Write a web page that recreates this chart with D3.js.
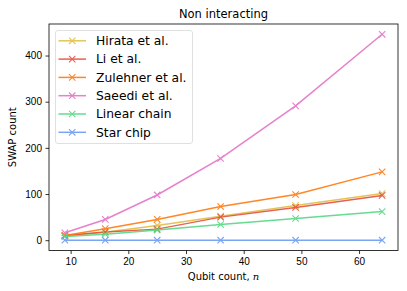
<!DOCTYPE html>
<html lang="en">
<head>
  <meta charset="utf-8">
  <title>Non interacting</title>
  <script src="https://d3js.org/d3.v7.min.js"></script>
  <style>
    body { margin: 0; background: #fff; }
    svg { font-family: "DejaVu Sans", sans-serif; }
  </style>
</head>
<body>
<script>
// qubit counts (x) and swap counts per method
var qubits = [9, 16, 25, 36, 49, 64];
var seriesNames = ["Hirata et al.", "Li et al.", "Zulehner et al.", "Saeedi et al.", "Linear chain", "Star chip"];
var hirata   = [9, 17, 32, 52, 75, 101];
var li       = [10, 18, 24, 50, 71, 97];
var zulehner = [10, 25, 45, 73, 99, 148];
var saeedi   = [16, 45, 98, 177, 291, 446];
var linear   = [8, 13, 22, 34, 47, 62];
var star     = [0, 0, 0, 0, 0, 0];
var xTicks = [10, 20, 30, 40, 50, 60];
var yTicks = [0, 100, 200, 300, 400];

var colours = ["#e0bf45", "#e4503f", "#ff7b0f", "#e474c6", "#55d985", "#6c9cf2"];
var allSeries = [hirata, li, zulehner, saeedi, linear, star];

var w = 407, h = 291;
// note: "top" is taken by window.top, so use plot* names
var plotLeft = 49, plotRight = 398, plotTop = 24, plotBottom = 250.5;

var xScale = d3.scaleLinear().domain([6.25, 66.75]).range([plotLeft, plotRight]);
var yScale = d3.scaleLinear().domain([-22.3, 468.3]).range([plotBottom, plotTop]);

var svg = d3.select("body").append("svg")
  .attr("width", w)
  .attr("height", h);

//axes
svg.append("g")
  .attr("transform", "translate(0," + plotBottom + ")")
  .call(d3.axisBottom(xScale).tickValues(xTicks).tickSize(3.5).tickPadding(3.5))
  .call(function (g) { g.select(".domain").remove(); })
  .selectAll("text").attr("font-size", "10px").attr("fill", "#000");

svg.append("g")
  .attr("transform", "translate(" + plotLeft + ",0)")
  .call(d3.axisLeft(yScale).tickValues(yTicks).tickSize(3.5).tickPadding(3.5))
  .call(function (g) { g.select(".domain").remove(); })
  .selectAll("text").attr("font-size", "10px").attr("fill", "#000");

svg.selectAll(".tick line").attr("stroke", "#000").attr("stroke-width", 0.8);

var line = d3.line()
  .x(function (d, i) { return xScale(qubits[i]); })
  .y(function (d) { return yScale(d); });

function drawMarker(g, cx, cy, colour) {
  var s = 3.2;
  g.append("path")
    .attr("d", "M" + (cx - s) + "," + (cy - s) + "L" + (cx + s) + "," + (cy + s) +
               "M" + (cx - s) + "," + (cy + s) + "L" + (cx + s) + "," + (cy - s))
    .attr("stroke", colour)
    .attr("stroke-width", 1.1)
    .attr("fill", "none");
}

allSeries.forEach(function (values, k) {
  var g = svg.append("g").attr("opacity", 0.9);
  g.append("path")
    .datum(values)
    .attr("d", line)
    .attr("fill", "none")
    .attr("stroke", colours[k])
    .attr("stroke-width", 1.5);
  values.forEach(function (v, i) {
    drawMarker(g, xScale(qubits[i]), yScale(v), colours[k]);
  });
});

//frame
svg.append("rect")
  .attr("x", plotLeft).attr("y", plotTop)
  .attr("width", plotRight - plotLeft).attr("height", plotBottom - plotTop)
  .attr("fill", "none").attr("stroke", "#000").attr("stroke-width", 0.8);

//legend
var legend = svg.append("g");
legend.append("rect")
  .attr("x", 55.5).attr("y", 30.5)
  .attr("width", 137).attr("height", 113)
  .attr("rx", 2.5)
  .attr("fill", "#fff").attr("fill-opacity", 0.8)
  .attr("stroke", "#d8d8d8").attr("stroke-width", 0.8);

seriesNames.forEach(function (name, k) {
  var y = 40.8 + k * 18.3;
  var g = legend.append("g").attr("opacity", 0.9);
  g.append("line")
    .attr("x1", 58.5).attr("x2", 86)
    .attr("y1", y).attr("y2", y)
    .attr("stroke", colours[k]).attr("stroke-width", 1.5);
  drawMarker(g, 72.2, y, colours[k]);
  legend.append("text")
    .attr("x", 96).attr("y", y + 4.3)
    .attr("font-size", "12.3px")
    .attr("fill", "#000")
    .text(name);
});

//labels
svg.append("text")
  .attr("x", (plotLeft + plotRight) / 2).attr("y", 18)
  .attr("text-anchor", "middle")
  .attr("font-size", "11.5px")
  .text("Non interacting");

var xl = svg.append("text")
  .attr("x", (plotLeft + plotRight) / 2).attr("y", 280)
  .attr("text-anchor", "middle")
  .attr("font-size", "10px");
xl.append("tspan").text("Qubit count, ");
xl.append("tspan").attr("font-family", "DejaVu Serif").attr("font-style", "italic").text("n");

svg.append("text")
  .attr("text-anchor", "middle")
  .attr("transform", "translate(16," + ((plotTop + plotBottom) / 2) + ")rotate(-90)")
  .attr("font-size", "10px")
  .text("SWAP count");
</script>
</body>
</html>
